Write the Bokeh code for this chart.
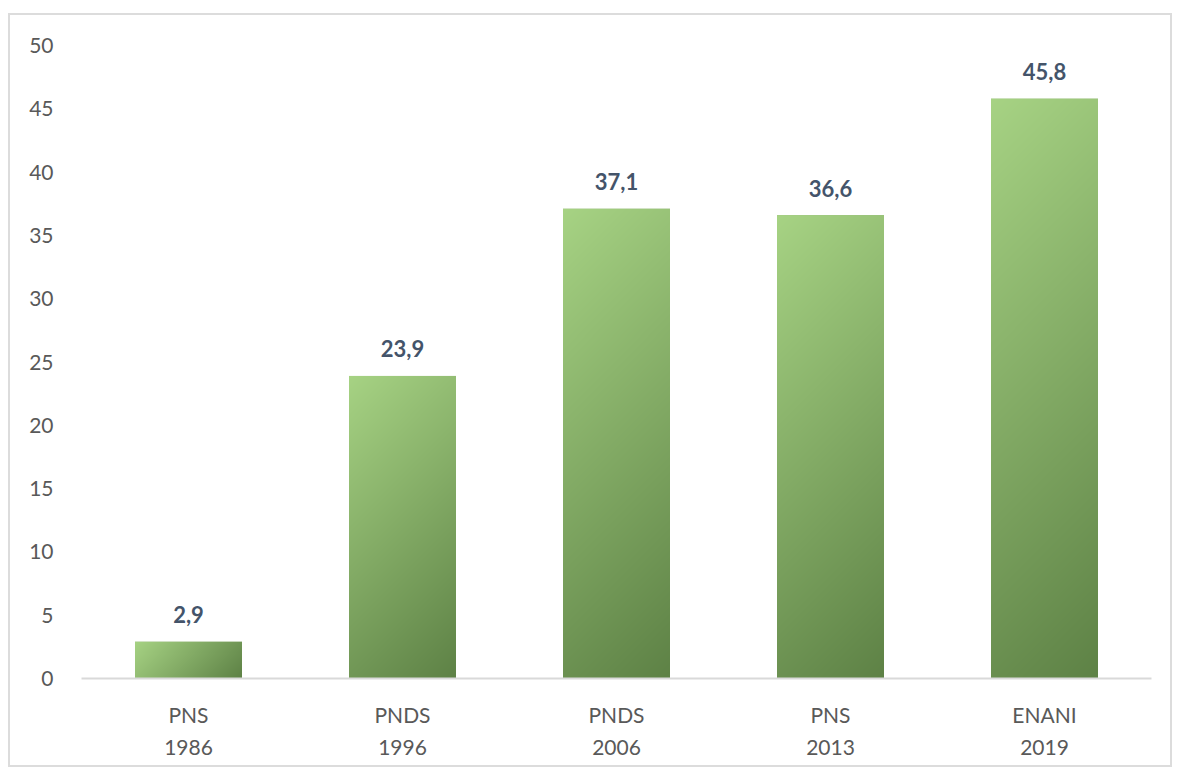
import numpy as np
from bokeh.plotting import figure
from bokeh.models import FixedTicker, Range1d, ColumnDataSource
from bokeh.core.properties import value
from bokeh.embed import file_html
from bokeh.resources import INLINE

# ---- data ----
surveys = ["PNS", "PNDS", "PNDS", "PNS", "ENANI"]
years = ["1986", "1996", "2006", "2013", "2019"]
values = [2.9, 23.9, 37.1, 36.6, 45.8]
labels = ["2,9", "23,9", "37,1", "36,6", "45,8"]
yticks = [0, 5, 10, 15, 20, 25, 30, 35, 40, 45, 50]

FONT = "Lato"
LIGHT = np.array([167, 211, 132])
DARK = np.array([94, 130, 70])

W, H = 1164, 754
p = figure(width=W, height=H, output_backend="svg", toolbar_location=None,
           x_range=Range1d(-0.5, 4.5), y_range=Range1d(0, 50),
           min_border_left=71, min_border_right=23, min_border_top=30, min_border_bottom=91,
           styles={"border": "2px solid #dcdcdc", "margin-left": "8px", "margin-top": "13px"})
p.outline_line_color = None
p.xgrid.visible = False
p.ygrid.visible = False
p.background_fill_color = "white"
p.border_fill_color = "white"

xs = list(range(len(values)))
src = ColumnDataSource(dict(x=xs, top=values, lab=labels))

# base bars
p.vbar(x="x", top="top", width=0.5, bottom=0, source=src,
       fill_color="#7fa862", line_color=None)

# gradient overlay for each bar (diagonal, light top-left -> dark bottom-right)
px_per_x = 214.0
px_per_y = 12.66
for xi, v in zip(xs, values):
    w = int(round(0.5 * px_per_x))
    h = max(2, int(round(v * px_per_y)))
    cx = np.arange(w)[None, :]
    ry = np.arange(h)[:, None]  # row 0 = bottom
    s = (cx + (h - 1 - ry)) / float(w + h - 2)
    rgb = LIGHT[None, None, :] * (1 - s[..., None]) + DARK[None, None, :] * s[..., None]
    rgb = rgb.astype(np.uint32)
    img = (255 << 24) | (rgb[..., 2] << 16) | (rgb[..., 1] << 8) | rgb[..., 0]
    p.image_rgba(image=[img.astype(np.uint32)], x=xi - 0.25, y=0, dw=0.5, dh=v)

# value labels
p.text(x="x", y="top", text="lab", source=src, y_offset=-27,
       text_align="center", text_baseline="alphabetic",
       text_font=value(FONT), text_font_size="22px", text_font_style="bold",
       text_color="#44546a")

# axes
xa = p.xaxis[0]
xa.ticker = FixedTicker(ticks=xs)
xa.major_label_overrides = {i: f"{s}\n{y}" for i, (s, y) in enumerate(zip(surveys, years))}
xa.axis_line_color = "#d9d9d9"
xa.axis_line_width = 2
xa.major_tick_line_color = None
xa.minor_tick_line_color = None
xa.major_label_standoff = 17
xa.major_label_text_font = FONT
xa.major_label_text_font_size = "21px"
xa.major_label_text_color = "#595959"
xa.major_label_text_line_height = 1.3

ya = p.yaxis[0]
ya.ticker = FixedTicker(ticks=yticks)
ya.axis_line_color = None
ya.major_tick_line_color = None
ya.minor_tick_line_color = None
ya.major_label_standoff = 22
ya.major_label_text_font = FONT
ya.major_label_text_font_size = "21px"
ya.major_label_text_color = "#595959"

open("out.html", "w").write(file_html(p, INLINE))
